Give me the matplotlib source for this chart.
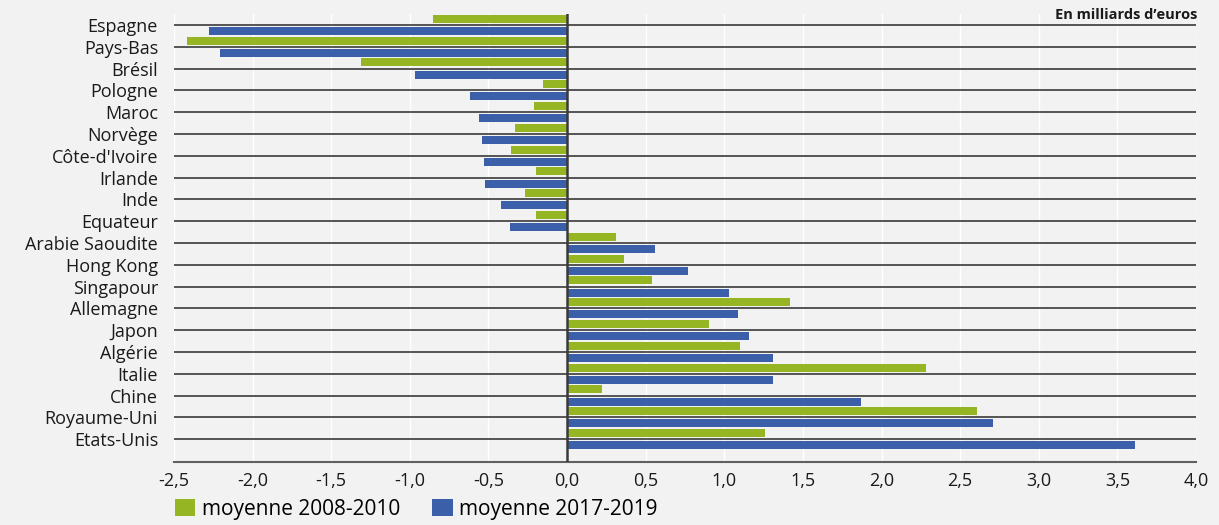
import matplotlib
matplotlib.use("Agg")
import matplotlib.pyplot as plt
from matplotlib.patches import Patch
import numpy as np

countries = ["Espagne", "Pays-Bas", "Brésil", "Pologne", "Maroc", "Norvège",
             "Côte-d'Ivoire", "Irlande", "Inde", "Equateur", "Arabie Saoudite",
             "Hong Kong", "Singapour", "Allemagne", "Japon", "Algérie", "Italie",
             "Chine", "Royaume-Uni", "Etats-Unis"]
v2008_2010 = [-0.855, -2.42, -1.31, -0.155, -0.21, -0.33, -0.355, -0.20, -0.265, -0.20,
              0.31, 0.36, 0.54, 1.415, 0.90, 1.10, 2.28, 0.225, 2.61, 1.26]
v2017_2019 = [-2.28, -2.21, -0.97, -0.62, -0.56, -0.54, -0.53, -0.52, -0.42, -0.36,
              0.56, 0.77, 1.03, 1.09, 1.155, 1.31, 1.31, 1.87, 2.71, 3.61]
xticks = [-2.5, -2.0, -1.5, -1.0, -0.5, 0.0, 0.5, 1.0, 1.5, 2.0, 2.5, 3.0, 3.5, 4.0]
xticklabels = ["-2,5", "-2,0", "-1,5", "-1,0", "-0,5", "0,0", "0,5", "1,0", "1,5",
               "2,0", "2,5", "3,0", "3,5", "4,0"]
series_labels = ["moyenne 2008-2010", "moyenne 2017-2019"]

GREEN = "#96b522"
BLUE = "#3b5fa8"
BG = "#f2f2f2"

plt.rcParams['font.family'] = ['Open Sans', 'DejaVu Sans']

W, H = 1219, 525
fig = plt.figure(figsize=(W / 100, H / 100), dpi=100, facecolor=BG)
ax = fig.add_axes([174 / W, 1 - 462 / H, (1196 - 174) / W, (462 - 14) / H])
ax.set_facecolor(BG)

y = np.arange(len(countries))
h = 0.37
off = 0.28
ax.barh(y - off, v2008_2010, height=h, color=GREEN, zorder=3)
ax.barh(y + off, v2017_2019, height=h, color=BLUE, zorder=3)

ax.set_xlim(-2.5, 4.0)
ax.set_ylim(20.05, -0.5)

ax.set_xticks(xticks)
ax.set_xticklabels(xticklabels, fontsize=13, color="#1a1a1a")
ax.set_yticks(y)
ax.set_yticklabels(countries, fontsize=13, color="#1a1a1a")
ax.tick_params(axis='both', length=0)
ax.tick_params(axis='y', pad=11.5)
ax.tick_params(axis='x', pad=7)

ax.grid(axis='x', color='white', lw=1, zorder=0)
ax.set_axisbelow(True)
for yy in y:
    ax.axhline(yy, color="#2a2a2a", lw=1.1, zorder=4)
ax.axvline(0, color="#3a3a3a", lw=1.8, zorder=5)

for s in ['top', 'right', 'left']:
    ax.spines[s].set_visible(False)
ax.spines['bottom'].set_color("#606060")
ax.spines['bottom'].set_linewidth(1.5)

fig.text(1197 / W, 1 - 15 / H, "En milliards d’euros", ha='right', va='center',
         fontsize=10.5, fontweight='bold', color="#1a1a1a")

handles = [Patch(facecolor=GREEN, edgecolor='none'), Patch(facecolor=BLUE, edgecolor='none')]
fig.legend(handles, series_labels, loc='lower left', bbox_to_anchor=(160 / W, -0.018),
           ncol=2, frameon=False, fontsize=15, handlelength=1.0, handleheight=0.85,
           handletextpad=0.3, columnspacing=1.55, borderpad=0.2)

fig.savefig("out.png", dpi=100, facecolor=BG)
